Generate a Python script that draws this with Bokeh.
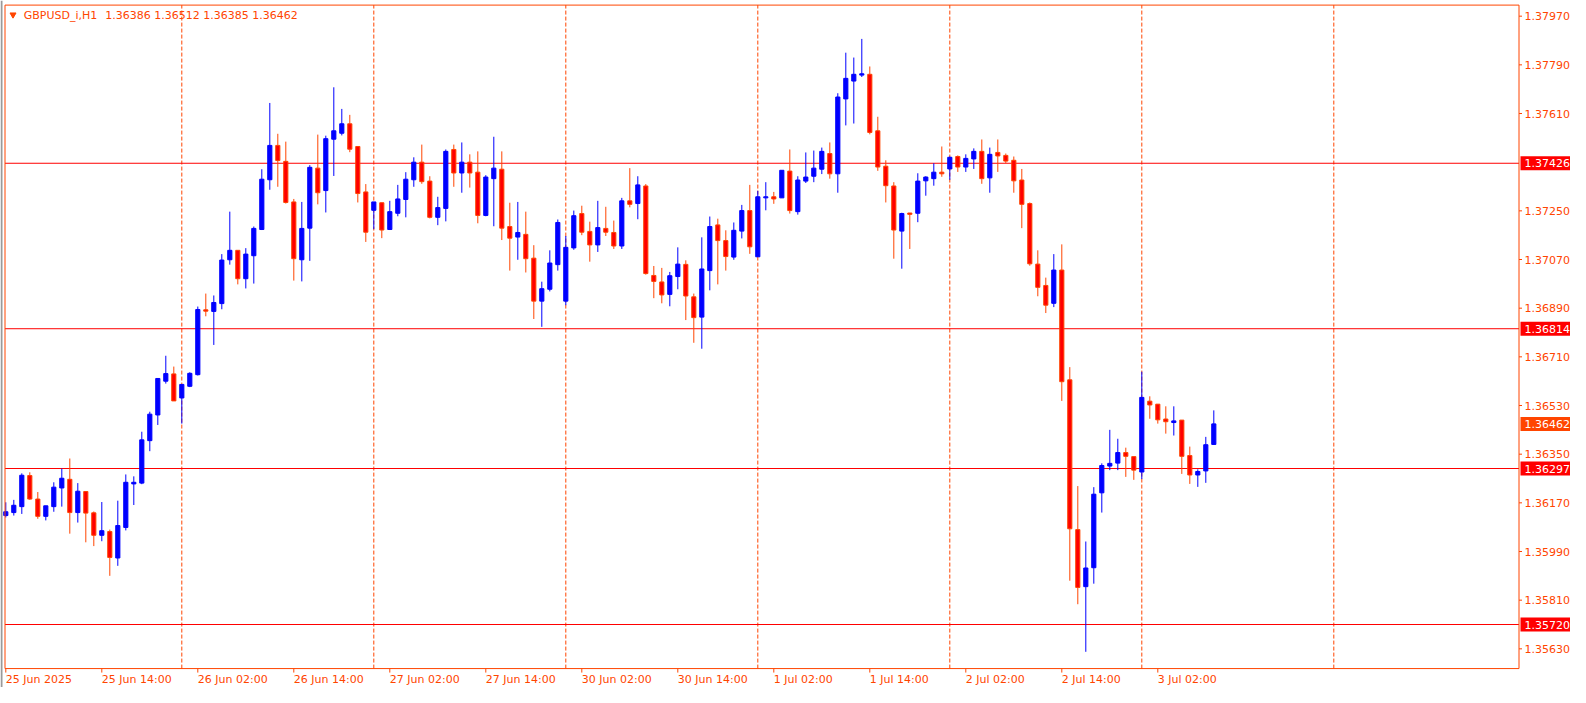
from bokeh.plotting import figure
from bokeh.models import ColumnDataSource, Range1d
from bokeh.core.properties import value
from bokeh.embed import file_html
from bokeh.resources import INLINE

symbol = "GBPUSD_i,H1"

opens = [
    1.36123, 1.36134, 1.36156, 1.36271, 1.36184, 1.36120, 1.36156, 1.36225, 1.36257, 1.36134,
    1.36212, 1.36133, 1.36050, 1.36064, 1.35966, 1.36079, 1.36240, 1.36243, 1.36400, 1.36495,
    1.36620, 1.36647, 1.36558, 1.36601, 1.36644, 1.36884, 1.36878, 1.36907, 1.37069, 1.37104,
    1.36999, 1.37084, 1.37181, 1.37365, 1.37492, 1.37433, 1.37283, 1.37069, 1.37186, 1.37408,
    1.37325, 1.37515, 1.37537, 1.37572, 1.37488, 1.37320, 1.37252, 1.37280, 1.37181, 1.37241,
    1.37292, 1.37365, 1.37430, 1.37360, 1.37226, 1.37259, 1.37477, 1.37390, 1.37430, 1.37393,
    1.37233, 1.37369, 1.37404, 1.37192, 1.37153, 1.37163, 1.37075, 1.36916, 1.36960, 1.37051,
    1.36916, 1.37113, 1.37240, 1.37174, 1.37124, 1.37185, 1.37170, 1.37120, 1.37287, 1.37277,
    1.37342, 1.37011, 1.36987, 1.36941, 1.37007, 1.37052, 1.36932, 1.36857, 1.37029, 1.37198,
    1.37140, 1.37079, 1.37175, 1.37251, 1.37080, 1.37298, 1.37302, 1.37298, 1.37397, 1.37247,
    1.37360, 1.37378, 1.37404, 1.37462, 1.37387, 1.37664, 1.37730, 1.37752, 1.37755, 1.37546,
    1.37415, 1.37342, 1.37175, 1.37242, 1.37241, 1.37361, 1.37369, 1.37393, 1.37405, 1.37451,
    1.37412, 1.37442, 1.37470, 1.37372, 1.37466, 1.37455, 1.37437, 1.37364, 1.37277, 1.37053,
    1.36974, 1.36908, 1.37031, 1.36625, 1.36071, 1.35860, 1.35930, 1.36207, 1.36306, 1.36317,
    1.36356, 1.36341, 1.36284, 1.36546, 1.36535, 1.36480, 1.36467, 1.36476, 1.36345, 1.36273,
    1.36288, 1.36386,
]
highs = [
    1.36172, 1.36181, 1.36279, 1.36283, 1.36210, 1.36159, 1.36246, 1.36297, 1.36334, 1.36243,
    1.36212, 1.36138, 1.36173, 1.36071, 1.36178, 1.36275, 1.36268, 1.36433, 1.36507, 1.36630,
    1.36714, 1.36674, 1.36608, 1.36653, 1.36896, 1.36944, 1.36937, 1.37090, 1.37247, 1.37104,
    1.37112, 1.37192, 1.37404, 1.37649, 1.37535, 1.37506, 1.37294, 1.37283, 1.37419, 1.37532,
    1.37528, 1.37707, 1.37627, 1.37605, 1.37488, 1.37349, 1.37283, 1.37280, 1.37287, 1.37346,
    1.37393, 1.37448, 1.37495, 1.37378, 1.37302, 1.37477, 1.37495, 1.37503, 1.37459, 1.37470,
    1.37382, 1.37524, 1.37470, 1.37280, 1.37283, 1.37247, 1.37123, 1.36988, 1.37104, 1.37218,
    1.37157, 1.37251, 1.37269, 1.37210, 1.37287, 1.37265, 1.37214, 1.37298, 1.37408, 1.37378,
    1.37349, 1.37046, 1.37039, 1.37024, 1.37115, 1.37067, 1.36944, 1.37152, 1.37229, 1.37221,
    1.37178, 1.37207, 1.37272, 1.37346, 1.37324, 1.37356, 1.37320, 1.37400, 1.37477, 1.37378,
    1.37466, 1.37473, 1.37484, 1.37503, 1.37685, 1.37835, 1.37817, 1.37886, 1.37784, 1.37598,
    1.37437, 1.37356, 1.37243, 1.37242, 1.37389, 1.37378, 1.37426, 1.37488, 1.37451, 1.37455,
    1.37459, 1.37481, 1.37514, 1.37484, 1.37514, 1.37462, 1.37451, 1.37405, 1.37281, 1.37104,
    1.37003, 1.37090, 1.37126, 1.36672, 1.36232, 1.36027, 1.36228, 1.36316, 1.36440, 1.36407,
    1.36374, 1.36341, 1.36655, 1.36564, 1.36535, 1.36527, 1.36527, 1.36476, 1.36378, 1.36294,
    1.36414, 1.36512,
]
lows = [
    1.36116, 1.36123, 1.36129, 1.36181, 1.36111, 1.36105, 1.36137, 1.36156, 1.36056, 1.36097,
    1.36024, 1.36010, 1.36028, 1.35900, 1.35937, 1.36068, 1.36162, 1.36239, 1.36361, 1.36458,
    1.36611, 1.36547, 1.36463, 1.36598, 1.36641, 1.36860, 1.36754, 1.36886, 1.37051, 1.36978,
    1.36963, 1.36981, 1.37179, 1.37328, 1.37339, 1.37277, 1.36992, 1.36989, 1.37065, 1.37274,
    1.37244, 1.37379, 1.37529, 1.37467, 1.37281, 1.37135, 1.37182, 1.37149, 1.37179, 1.37230,
    1.37226, 1.37339, 1.37350, 1.37222, 1.37197, 1.37211, 1.37339, 1.37317, 1.37336, 1.37204,
    1.37230, 1.37193, 1.37142, 1.37029, 1.37069, 1.37022, 1.36850, 1.36821, 1.36952, 1.37029,
    1.36901, 1.37106, 1.37160, 1.37062, 1.37098, 1.37157, 1.37109, 1.37109, 1.37263, 1.37219,
    1.37014, 1.36927, 1.36908, 1.36897, 1.36960, 1.36846, 1.36762, 1.36740, 1.36956, 1.36978,
    1.37029, 1.37069, 1.37148, 1.37091, 1.37080, 1.37252, 1.37276, 1.37298, 1.37240, 1.37236,
    1.37353, 1.37356, 1.37386, 1.37369, 1.37317, 1.37566, 1.37573, 1.37745, 1.37533, 1.37398,
    1.37281, 1.37073, 1.37036, 1.37109, 1.37208, 1.37306, 1.37343, 1.37376, 1.37365, 1.37394,
    1.37394, 1.37405, 1.37350, 1.37317, 1.37394, 1.37427, 1.37317, 1.37186, 1.37047, 1.36934,
    1.36872, 1.36894, 1.36547, 1.35882, 1.35795, 1.35619, 1.35871, 1.36134, 1.36291, 1.36291,
    1.36266, 1.36255, 1.36258, 1.36481, 1.36463, 1.36426, 1.36419, 1.36277, 1.36240, 1.36229,
    1.36244, 1.36385,
]
closes = [
    1.36137, 1.36161, 1.36272, 1.36184, 1.36120, 1.36159, 1.36228, 1.36261, 1.36134, 1.36213,
    1.36132, 1.36050, 1.36067, 1.35968, 1.36086, 1.36246, 1.36246, 1.36403, 1.36498, 1.36630,
    1.36648, 1.36547, 1.36608, 1.36649, 1.36885, 1.36879, 1.36911, 1.37068, 1.37104, 1.36999,
    1.37090, 1.37185, 1.37367, 1.37492, 1.37436, 1.37281, 1.37073, 1.37185, 1.37411, 1.37317,
    1.37517, 1.37546, 1.37572, 1.37478, 1.37314, 1.37171, 1.37283, 1.37179, 1.37247, 1.37294,
    1.37367, 1.37430, 1.37358, 1.37226, 1.37262, 1.37470, 1.37390, 1.37430, 1.37390, 1.37233,
    1.37375, 1.37408, 1.37186, 1.37149, 1.37170, 1.37073, 1.36916, 1.36962, 1.37057, 1.37207,
    1.37115, 1.37232, 1.37171, 1.37124, 1.37188, 1.37171, 1.37120, 1.37287, 1.37274, 1.37346,
    1.37018, 1.36989, 1.36939, 1.37010, 1.37053, 1.36935, 1.36855, 1.37035, 1.37192, 1.37140,
    1.37081, 1.37178, 1.37251, 1.37117, 1.37302, 1.37302, 1.37294, 1.37400, 1.37251, 1.37364,
    1.37375, 1.37408, 1.37470, 1.37387, 1.37671, 1.37740, 1.37755, 1.37757, 1.37540, 1.37412,
    1.37343, 1.37179, 1.37240, 1.37237, 1.37360, 1.37375, 1.37393, 1.37387, 1.37448, 1.37412,
    1.37444, 1.37470, 1.37369, 1.37459, 1.37453, 1.37434, 1.37361, 1.37274, 1.37054, 1.36967,
    1.36901, 1.37031, 1.36618, 1.36074, 1.35857, 1.35929, 1.36202, 1.36308, 1.36316, 1.36356,
    1.36342, 1.36291, 1.36560, 1.36532, 1.36477, 1.36470, 1.36473, 1.36342, 1.36273, 1.36286,
    1.36385, 1.36462,
]

tick_bars = [0, 12, 24, 36, 48, 60, 72, 84, 96, 108, 120, 132, 144]
tick_labels = ["25 Jun 2025", "25 Jun 14:00", "26 Jun 02:00", "26 Jun 14:00",
               "27 Jun 02:00", "27 Jun 14:00", "30 Jun 02:00", "30 Jun 14:00",
               "1 Jul 02:00", "1 Jul 14:00", "2 Jul 02:00", "2 Jul 14:00", "3 Jul 02:00"]
day_start_bars = [22, 46, 70, 94, 118, 142, 166]
levels = [1.37426, 1.36814, 1.36297, 1.35720]
price_ticks = [1.35630, 1.35810, 1.35990, 1.36170, 1.36350, 1.36530, 1.36710,
               1.36890, 1.37070, 1.37250, 1.37610, 1.37790, 1.37970]

ORANGE = "#FF4500"
RED = "#FF0000"
BLUE = "#0000FF"
FONT = "DejaVu Sans"
FS = "11px"

W, H = 1570, 687
xr = Range1d(-0.6625, 195.5875)
yr = Range1d(1.35487, 1.38028)


def dx(px):
    return px * (xr.end - xr.start) / W


def dy(px):
    return px * (yr.end - yr.start) / H


# price-chart box (the rest of the canvas holds the scales)
box_left = -0.1
box_right = 189.15
box_top = 1.38011
box_bottom = 1.35557

n = len(opens)
bull = dict(x=[], h=[], l=[], top=[], bottom=[])
bear = dict(x=[], h=[], l=[], top=[], bottom=[])
for i in range(n):
    d = bull if closes[i] > opens[i] else bear
    d["x"].append(i)
    d["h"].append(highs[i])
    d["l"].append(lows[i])
    d["top"].append(max(opens[i], closes[i]))
    d["bottom"].append(min(opens[i], closes[i]))
bull_src = ColumnDataSource(bull)
bear_src = ColumnDataSource(bear)

p = figure(width=W, height=H, output_backend="svg", toolbar_location=None,
           x_range=xr, y_range=yr, x_axis_location=None, y_axis_location=None,
           title=None, min_border_left=0, min_border_right=0,
           min_border_top=0, min_border_bottom=0)
p.background_fill_color = "white"
p.border_fill_color = "white"
p.outline_line_color = None
for g in p.grid:
    g.visible = False

# window edge on the left
p.segment(x0=[xr.start + dx(1)], x1=[xr.start + dx(1)], y0=[yr.start], y1=[yr.end],
          line_color="#9A9A9A", line_width=2)

# day separators
p.segment(x0=day_start_bars, x1=day_start_bars,
          y0=[box_bottom] * len(day_start_bars), y1=[box_top] * len(day_start_bars),
          line_color=ORANGE, line_dash="4 2", line_width=1)

# horizontal levels
p.segment(x0=[box_left] * len(levels), x1=[box_right] * len(levels),
          y0=levels, y1=levels, line_color=RED, line_width=1)

# candles
p.segment(x0="x", y0="l", x1="x", y1="h", source=bull_src, line_color=BLUE, line_width=1)
p.segment(x0="x", y0="l", x1="x", y1="h", source=bear_src, line_color=ORANGE, line_width=1)
p.vbar(x="x", width=0.52, top="top", bottom="bottom", source=bull_src,
       fill_color=BLUE, line_color=BLUE, line_width=1)
p.vbar(x="x", width=0.52, top="top", bottom="bottom", source=bear_src,
       fill_color=RED, line_color=ORANGE, line_width=1)

# chart border
p.quad(left=[box_left], right=[box_right], top=[box_top], bottom=[box_bottom],
       fill_color=None, line_color=ORANGE, line_width=1)

# price scale on the right
nt = len(price_ticks)
p.segment(x0=[box_right] * nt, x1=[box_right + dx(3)] * nt,
          y0=price_ticks, y1=price_ticks, line_color=ORANGE, line_width=1)
p.text(x=[box_right + dx(5.5)] * nt, y=price_ticks,
       text=[f"{t:.5f}" for t in price_ticks],
       text_color=ORANGE, text_font=value(FONT), text_font_size=value(FS),
       text_align="left", text_baseline="middle")

# time scale below
nb = len(tick_bars)
p.segment(x0=tick_bars, x1=tick_bars, y0=[box_bottom] * nb,
          y1=[box_bottom - dy(4)] * nb, line_color=ORANGE, line_width=1)
p.text(x=tick_bars, y=[box_bottom - dy(11)] * nb, text=tick_labels,
       text_color=ORANGE, text_font=value(FONT), text_font_size=value(FS),
       text_align="left", text_baseline="middle")

# price boxes
box_x = box_right + dx(26.5)
p.rect(x=[box_x] * len(levels), y=levels, width=50, height=14,
       width_units="screen", height_units="screen",
       fill_color=RED, line_color=None)
p.text(x=[box_right + dx(5.5)] * len(levels), y=levels,
       text=[f"{lv:.5f}" for lv in levels],
       text_color="white", text_font=value(FONT), text_font_size=value(FS),
       text_align="left", text_baseline="middle")
p.rect(x=[box_x], y=[closes[-1]], width=50, height=14,
       width_units="screen", height_units="screen",
       fill_color=ORANGE, line_color=None)
p.text(x=[box_right + dx(5.5)], y=[closes[-1]], text=[f"{closes[-1]:.5f}"],
       text_color="white", text_font=value(FONT), text_font_size=value(FS),
       text_align="left", text_baseline="middle")

# header
p.scatter(x=[box_left + dx(8)], y=[box_top - dy(9.6)], marker="inverted_triangle",
          size=6, fill_color=ORANGE, line_color=ORANGE)
ohlc_text = f"{opens[-1]:.5f} {highs[-1]:.5f} {lows[-1]:.5f} {closes[-1]:.5f}"
p.text(x=[box_left + dx(18.8), box_left + dx(100.2)], y=[box_top - dy(10)] * 2,
       text=[symbol, ohlc_text],
       text_color=ORANGE, text_font=value(FONT), text_font_size=value(FS),
       text_align="left", text_baseline="middle")

open("out.html", "w").write(file_html(p, INLINE))
